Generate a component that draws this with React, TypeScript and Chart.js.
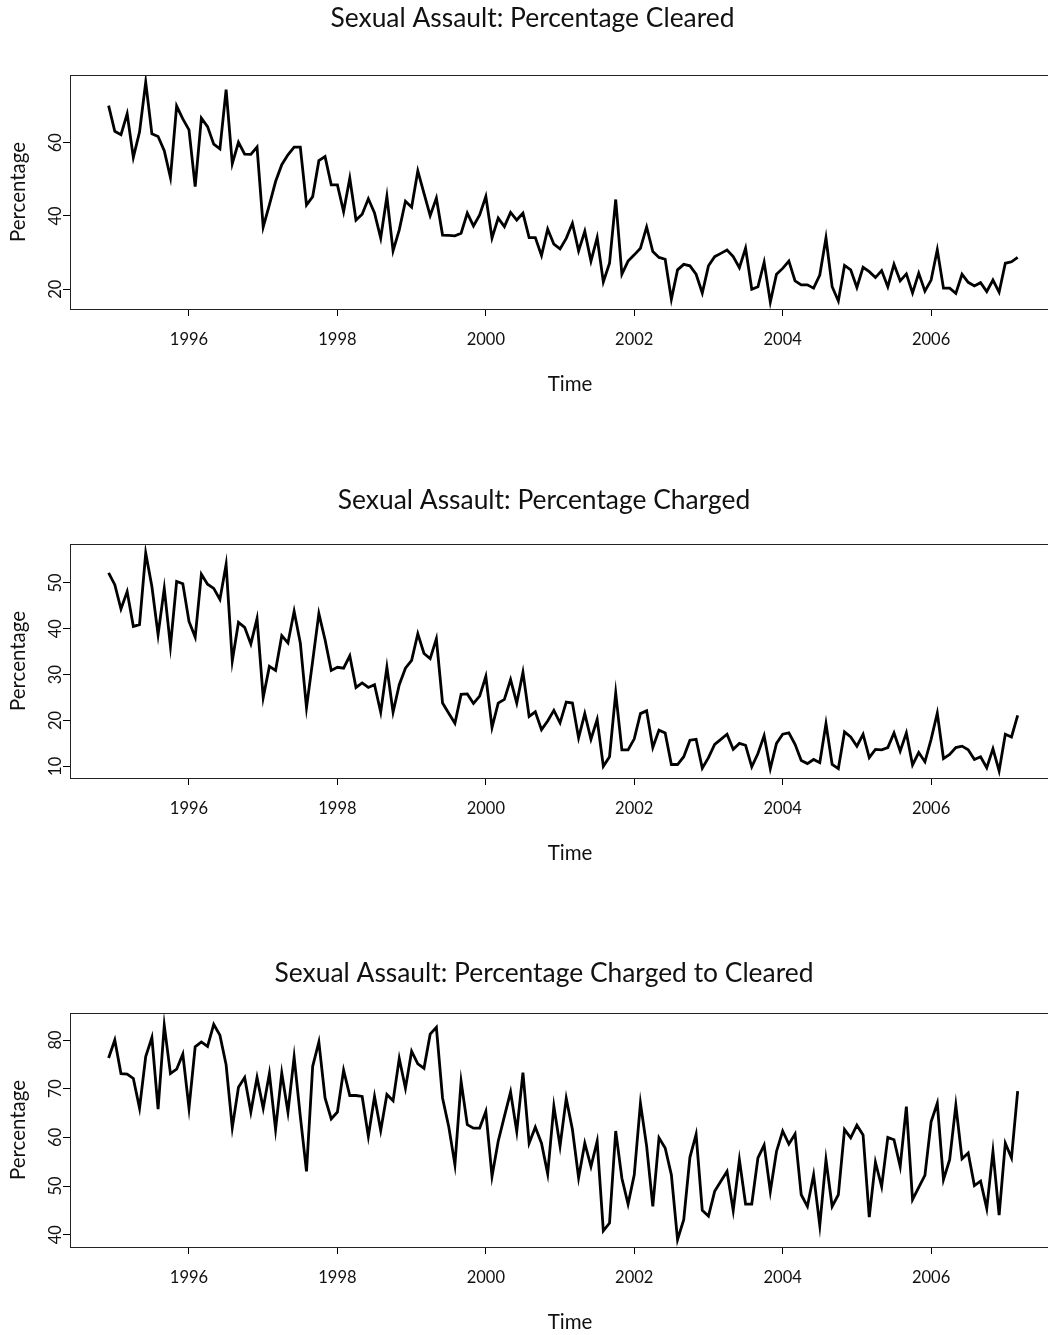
import React, { useEffect, useRef } from "react";
import { Chart, registerables } from "chart.js";

Chart.register(...registerables);

// Monthly series, first observation December 1994
const startYear = 1994;
const startMonth = 12;

const clearedPct = [
  70.1, 63.1, 62.2, 67.9, 56.0, 62.9, 76.5, 62.4, 61.7, 57.8,
  50.5, 70.0, 66.5, 63.5, 48.0, 66.7, 64.4, 59.6, 58.3, 74.5,
  54.3, 60.1, 56.9, 56.8, 58.8, 37.0, 43.0, 49.4, 54.0, 56.7,
  58.8, 58.8, 43.0, 45.3, 55.1, 56.2, 48.5, 48.5, 41.2, 50.3,
  38.9, 40.5, 44.7, 40.8, 34.0, 45.3, 30.5, 36.2, 44.0, 42.4,
  52.3, 46.2, 40.1, 44.9, 34.8, 34.7, 34.6, 35.3, 40.8, 37.3,
  40.3, 45.3, 34.0, 39.4, 37.1, 41.0, 38.9, 40.8, 34.1, 34.1,
  29.2, 36.4, 32.3, 31.0, 33.9, 38.0, 30.5, 35.8, 27.7, 34.1,
  22.0, 27.1, 44.5, 24.1, 27.7, 29.4, 31.2, 37.0, 30.3, 28.7,
  28.2, 17.3, 25.3, 26.8, 26.4, 24.1, 19.0, 26.4, 28.9, 29.8,
  30.7, 28.9, 25.9, 31.2, 20.0, 20.7, 27.4, 16.5, 24.1, 25.7,
  27.7, 22.3, 21.2, 21.2, 20.3, 23.9, 34.0, 20.7, 16.8, 26.5,
  25.3, 20.5, 26.0, 24.8, 23.2, 25.1, 20.7, 26.8, 22.3, 24.2,
  19.0, 24.4, 19.5, 22.5, 30.8, 20.3, 20.3, 18.9, 24.1, 21.9,
  20.9, 21.8, 19.4, 22.5, 19.2, 27.1, 27.5, 28.7,
];

const chargedPct = [
  52.2, 49.6, 44.3, 48.1, 40.5, 40.9, 56.5, 49.2, 38.7, 48.8,
  36.2, 50.3, 49.8, 41.6, 38.2, 51.9, 49.7, 48.8, 46.4, 54.0,
  33.0, 41.4, 40.3, 36.7, 42.2, 25.0, 31.8, 30.9, 38.5, 36.9,
  43.8, 36.9, 22.8, 33.0, 43.3, 37.6, 30.9, 31.6, 31.4, 34.1,
  27.2, 28.2, 27.2, 27.8, 21.8, 31.6, 21.8, 27.8, 31.4, 33.1,
  38.9, 34.6, 33.5, 37.8, 23.8, 21.6, 19.4, 25.7, 25.8, 23.7,
  25.3, 29.6, 18.5, 23.8, 24.6, 28.9, 23.8, 30.5, 20.9, 21.9,
  18.0, 19.9, 22.2, 19.5, 24.0, 23.8, 16.2, 21.5, 15.9, 20.2,
  10.0, 12.1, 26.0, 13.6, 13.6, 16.0, 21.5, 22.1, 14.1, 17.9,
  17.3, 10.4, 10.4, 12.1, 15.7, 15.9, 9.6, 11.9, 14.8, 15.9,
  17.0, 13.7, 15.0, 14.6, 9.9, 12.8, 16.7, 9.5, 15.0, 17.0,
  17.3, 14.8, 11.3, 10.6, 11.5, 10.8, 19.3, 10.4, 9.5, 17.5,
  16.4, 14.4, 17.0, 11.9, 13.7, 13.6, 14.1, 17.3, 13.3, 17.3,
  10.3, 13.0, 11.0, 15.9, 21.6, 11.7, 12.6, 14.1, 14.4, 13.6,
  11.5, 12.1, 9.7, 13.8, 9.0, 17.0, 16.4, 21.1,
];

const chargedToClearedPct = [
  76.3, 80.0, 73.1, 73.0, 72.1, 66.0, 76.6, 80.5, 65.8, 83.0,
  73.1, 74.0, 77.1, 66.0, 78.6, 79.6, 78.7, 83.2, 81.0, 74.9,
  62.0, 70.3, 72.3, 65.2, 72.3, 66.0, 73.1, 61.6, 73.2, 65.2,
  76.5, 64.3, 53.0, 74.6, 79.6, 68.1, 63.8, 65.2, 73.8, 68.6,
  68.6, 68.4, 60.2, 68.4, 61.4, 68.8, 67.5, 76.2, 70.1, 77.7,
  75.1, 74.2, 81.2, 82.6, 68.1, 62.2, 54.4, 71.5, 62.6, 61.9,
  61.9, 65.3, 52.0, 59.2, 64.3, 69.3, 61.2, 73.3, 58.8, 62.1,
  58.8, 52.5, 66.4, 58.2, 68.0, 61.6, 51.7, 58.8, 54.0, 59.2,
  40.8, 42.4, 61.3, 51.6, 46.3, 52.3, 67.0, 58.2, 45.8, 59.9,
  57.8, 52.3, 39.0, 43.1, 55.9, 60.6, 45.0, 43.8, 48.9, 51.0,
  53.0, 45.0, 55.4, 46.3, 46.3, 55.8, 58.4, 48.9, 57.1, 61.3,
  58.6, 60.7, 48.2, 45.8, 52.3, 41.9, 55.4, 45.8, 48.2, 61.6,
  59.9, 62.5, 60.5, 43.6, 54.9, 49.9, 60.0, 59.5, 54.0, 66.3,
  47.2, 49.7, 52.2, 63.2, 67.0, 51.3, 55.4, 66.6, 55.6, 56.8,
  50.1, 51.0, 45.4, 57.1, 44.0, 58.8, 55.8, 69.5,
];

const yearTicks = [1996, 1998, 2000, 2002, 2004, 2006];
const clearedTicks = [20, 40, 60];
const chargedTicks = [10, 20, 30, 40, 50];
const ratioTicks = [40, 50, 60, 70, 80];

const titles = [
  "Sexual Assault: Percentage Cleared",
  "Sexual Assault: Percentage Charged",
  "Sexual Assault: Percentage Charged to Cleared",
];
const xAxisTitle = "Time";
const yAxisTitle = "Percentage";

const FONT = "Lato, 'Open Sans', sans-serif";
const TITLE_SIZE = 26.4;
const TICK_SIZE = 16.5;
const AXIS_TITLE_SIZE = 20.5;
const CW = 1052;
const CH = 469;
const AREA_LEFT = 70;
const AREA_TOP = 75;
const AREA_BOTTOM = 309;
const AREA_RIGHT = 1049;
const PX_PER_YEAR = 74.21;
const X_MIN = 1996 - (189 - AREA_LEFT) / PX_PER_YEAR;
const X_MAX = X_MIN + (AREA_RIGHT - AREA_LEFT) / PX_PER_YEAR;

const panelSetup = [
  { values: clearedPct, ticks: clearedTicks, yMin: 14.62, yMax: 78.47, titleX: 532.5, titleY: 18 },
  { values: chargedPct, ticks: chargedTicks, yMin: 7.46, yMax: 58.48, titleX: 544, titleY: 31 },
  { values: chargedToClearedPct, ticks: ratioTicks, yMin: 37.47, yMax: 85.55, titleX: 544, titleY: 35 },
];

function makeTextPlugin(title: string, tx: number, ty: number) {
  return {
    id: "panelText",
    afterDraw(chart: any) {
      const { ctx, chartArea } = chart;
      ctx.save();
      ctx.strokeStyle = "#222";
      ctx.lineWidth = 1;
      ctx.strokeRect(chartArea.left + 0.5, chartArea.top + 0.5, chartArea.right - chartArea.left, chartArea.bottom - chartArea.top);
      ctx.fillStyle = "#111";
      ctx.textAlign = "center";
      ctx.textBaseline = "middle";
      ctx.font = `${TITLE_SIZE}px ${FONT}`;
      ctx.fillText(title, tx, ty);
      ctx.font = `${AXIS_TITLE_SIZE}px ${FONT}`;
      ctx.fillText(xAxisTitle, 570, 384);
      ctx.restore();
    },
  };
}

function timeOf(i: number) {
  return startYear + (startMonth - 1) / 12 + i / 12;
}

export default function App() {
  const refs = useRef<(HTMLCanvasElement | null)[]>([]);

  useEffect(() => {
    document.body.style.margin = "0";
    const charts: Chart[] = [];
    panelSetup.forEach((p, k) => {
      const canvas = refs.current[k];
      if (!canvas) return;
      const tickLH = TICK_SIZE * 1.2;
      const axisLH = AXIS_TITLE_SIZE * 1.2;
      const chart = new Chart(canvas, {
        type: "line",
        data: {
          datasets: [
            {
              data: p.values.map((v, i) => ({ x: timeOf(i), y: v })),
              borderColor: "#000",
              borderWidth: 2.8,
              pointRadius: 0,
              fill: false,
              tension: 0,
              borderJoinStyle: "miter",
            },
          ],
        },
        options: {
          animation: false,
          responsive: false,
          devicePixelRatio: 1,
          layout: { padding: { left: 0, right: CW - AREA_RIGHT, top: AREA_TOP, bottom: 0 } },
          plugins: {
            legend: { display: false },
            tooltip: { enabled: false },
            title: { display: false },
          },
          scales: {
            x: {
              type: "linear",
              min: X_MIN,
              max: X_MAX,
              afterBuildTicks: (s: any) => {
                s.ticks = yearTicks.map((v) => ({ value: v }));
              },
              afterFit: (s: any) => {
                s.height = CH - AREA_BOTTOM;
              },
              ticks: {
                autoSkip: false,
                minRotation: 0,
                maxRotation: 0,
                color: "#111",
                font: { family: FONT, size: TICK_SIZE },
                padding: 339.5 - AREA_BOTTOM - 7 - tickLH / 2,
                callback: (v: any) => String(v),
              },
              grid: { drawOnChartArea: false, drawTicks: true, tickLength: 7, color: "#000", lineWidth: 1 },
              border: { display: true, color: "#222", width: 1 },
              title: { display: false },
            },
            y: {
              type: "linear",
              min: p.yMin,
              max: p.yMax,
              afterBuildTicks: (s: any) => {
                s.ticks = p.ticks.map((v) => ({ value: v }));
              },
              afterFit: (s: any) => {
                s.width = AREA_LEFT;
              },
              ticks: {
                minRotation: 90,
                maxRotation: 90,
                crossAlign: "center",
                color: "#111",
                font: { family: FONT, size: TICK_SIZE },
                padding: -2.5,
                callback: (v: any) => String(v),
              },
              grid: { drawOnChartArea: false, drawTicks: true, tickLength: 7, color: "#000", lineWidth: 1 },
              border: { display: true, color: "#222", width: 1 },
              title: {
                display: true,
                text: yAxisTitle,
                color: "#111",
                font: { family: FONT, size: AXIS_TITLE_SIZE },
                padding: { top: 18 - axisLH / 2, bottom: 0 },
              },
            },
          },
        },
        plugins: [makeTextPlugin(titles[k], p.titleX, p.titleY)],
      });
      charts.push(chart);
    });
    return () => charts.forEach((c) => c.destroy());
  }, []);

  return (
    <div style={{ position: "relative", width: 1048, height: 1335, overflow: "hidden", background: "#fff" }}>
      {panelSetup.map((_, k) => (
        <canvas
          key={k}
          ref={(el) => {
            refs.current[k] = el;
          }}
          width={CW}
          height={CH}
          style={{ position: "absolute", left: 0, top: k * CH, width: CW, height: CH }}
        />
      ))}
    </div>
  );
}
